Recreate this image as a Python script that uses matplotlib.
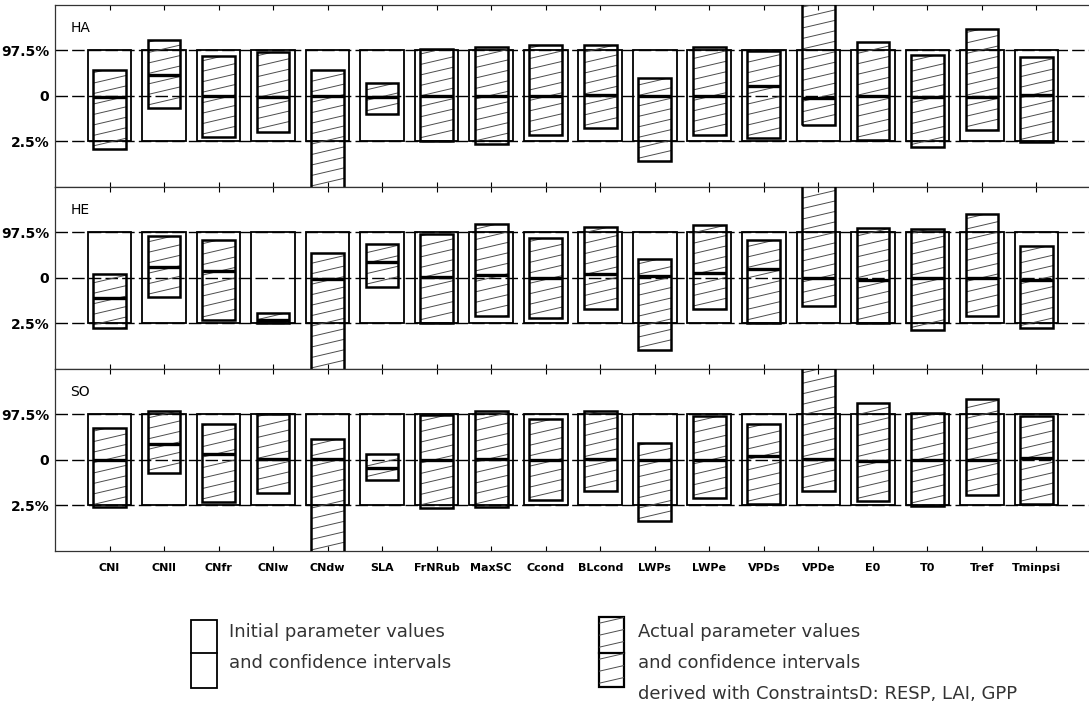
import matplotlib
matplotlib.use("Agg")
import matplotlib.pyplot as plt
import numpy as np
from matplotlib.patches import Rectangle

# %%
# parameter names along the x axis
params = ["CNl", "CNll", "CNfr", "CNlw", "CNdw", "SLA", "FrNRub", "MaxSC", "Ccond",
          "BLcond", "LWPs", "LWPe", "VPDs", "VPDe", "E0", "T0", "Tref", "Tminpsi"]

sites = ["HA", "HE", "SO"]

# actual parameter intervals, scaled so the initial 2.5% / 97.5% bounds are -1 / +1
ha_lo = [-1.16, -0.26, -0.90, -0.79, -2.50, -0.39, -0.98, -1.05, -0.85,
         -0.71, -1.43, -0.85, -0.93, -0.64, -0.97, -1.13, -0.74, -1.02]
ha_hi = [0.56, 1.24, 0.87, 0.97, 0.58, 0.29, 1.04, 1.07, 1.12,
         1.12, 0.40, 1.07, 0.98, 2.50, 1.18, 0.91, 1.47, 0.85]
ha_med = [-0.02, 0.46, 0.01, -0.02, 0.01, -0.02, 0.00, 0.00, 0.01,
          0.03, 0.00, 0.01, 0.21, -0.04, -0.01, -0.02, -0.02, 0.03]

he_lo = [-1.09, -0.42, -0.92, -0.98, -2.50, -0.20, -0.98, -0.83, -0.87,
         -0.68, -1.59, -0.68, -0.98, -0.61, -0.98, -1.15, -0.83, -1.11]
he_hi = [0.08, 0.93, 0.83, -0.76, 0.54, 0.74, 0.96, 1.19, 0.88,
         1.12, 0.41, 1.17, 0.83, 2.50, 1.10, 1.07, 1.41, 0.70]
he_med = [-0.44, 0.25, 0.16, -0.92, -0.02, 0.36, 0.03, 0.07, 0.01,
          0.09, 0.04, 0.12, 0.20, 0.01, -0.05, 0.00, 0.00, -0.05]

so_lo = [-1.04, -0.29, -0.92, -0.72, -2.50, -0.43, -1.05, -1.03, -0.89,
         -0.68, -1.35, -0.84, -0.97, -0.68, -0.91, -1.01, -0.76, -0.97]
so_hi = [0.71, 1.07, 0.78, 1.02, 0.47, 0.12, 0.99, 1.07, 0.91,
         1.07, 0.37, 0.97, 0.78, 2.02, 1.25, 1.04, 1.33, 0.96]
so_med = [-0.01, 0.36, 0.12, 0.02, 0.01, -0.18, 0.00, 0.02, -0.01,
          0.02, -0.01, 0.00, 0.08, 0.02, -0.03, 0.00, 0.00, 0.04]

ytick_vals = [-1, 0, 1]
ytick_labels = ["2.5%", "0", "97.5%"]

# %%
W_INIT = 0.8
W_ACT = 0.6
HATCH_STEP = 0.23
HATCH_SLOPE = 0.28


def hatch_lines(ax, box, x0, y0, w, h, step, slope):
    """Shallow diagonal lines clipped to the outline of box (and the axes)."""
    xs = np.array([x0, x0 + w])
    for yb in np.arange(y0 - abs(slope) * w, y0 + h + step, step):
        ln, = ax.plot(xs, yb + slope * (xs - x0), color="0.3", lw=0.7, zorder=3)
        # path + transform keeps the axes clip box as well
        ln.set_clip_path(box.get_path(), box.get_transform())


def site_panel(ax, lo, hi, med, name, last=False):
    x = np.arange(len(params))
    ax.set_xlim(-1, 18)
    ax.set_ylim(-2, 2)

    for yv in ytick_vals:
        ax.axhline(yv, color="black", lw=1.0, ls=(0, (9, 3)), zorder=1)

    for xi, l, h, m in zip(x, lo, hi, med):
        ax.add_patch(Rectangle((xi - W_INIT / 2, -1), W_INIT, 2, fill=False,
                               edgecolor="black", lw=1.3, zorder=2))
        box = Rectangle((xi - W_ACT / 2, l), W_ACT, h - l, fill=False,
                        edgecolor="black", lw=1.8, zorder=4)
        ax.add_patch(box)
        hatch_lines(ax, box, xi - W_ACT / 2, l, W_ACT, h - l, HATCH_STEP, HATCH_SLOPE)
        ax.plot([xi - W_ACT / 2, xi + W_ACT / 2], [m, m], color="black",
                lw=2.4, solid_capstyle="butt", zorder=5)

    ax.text(-0.72, 1.5, name, fontsize=10, va="center", ha="left")

    ax.set_yticks(ytick_vals)
    ax.set_yticklabels(ytick_labels, fontsize=10, fontweight="bold")
    ax.tick_params(axis="y", length=0, pad=4)
    ax.set_xticks(x)
    ax.tick_params(axis="x", direction="in", length=3.5, top=True, bottom=True,
                   width=0.8)
    if last:
        ax.set_xticklabels(params, fontsize=8, fontweight="bold")
        ax.tick_params(axis="x", pad=9)
    else:
        ax.set_xticklabels([])
    ax.spines["right"].set_visible(False)
    for s in ("left", "top", "bottom"):
        ax.spines[s].set_linewidth(0.9)
        ax.spines[s].set_color("0.2")


# %%
fig = plt.figure(figsize=(10.89, 7.12), dpi=100)

left, width = 0.0505, 0.9513
top, ph = 0.993, 0.2556
data = [(ha_lo, ha_hi, ha_med), (he_lo, he_hi, he_med), (so_lo, so_hi, so_med)]
for i, (name, (lo, hi, med)) in enumerate(zip(sites, data)):
    ax = fig.add_axes([left, top - (i + 1) * ph, width, ph])
    site_panel(ax, lo, hi, med, name, last=(i == 2))

# legend drawn in pixel coordinates of the figure (y grows downwards)
lg = fig.add_axes([0, 0, 1, 1], zorder=-1)
lg.set_xlim(0, 1089)
lg.set_ylim(712, 0)
lg.axis("off")

lg.add_patch(Rectangle((191, 620), 26, 68, fill=False, edgecolor="black", lw=1.3))
lg.plot([191, 217], [653, 653], color="black", lw=1.3)
txt = dict(fontsize=13, va="center", ha="left", color="0.2")
lg.text(229, 632, "Initial parameter values", **txt)
lg.text(229, 663, "and confidence intervals", **txt)

icon = Rectangle((599, 617), 25, 70, fill=False, edgecolor="black", lw=1.6)
lg.add_patch(icon)
hatch_lines(lg, icon, 599, 617, 25, 70, 12, -0.23)
lg.plot([599, 624], [653, 653], color="black", lw=1.6)
lg.text(638, 632, "Actual parameter values", **txt)
lg.text(638, 663, "and confidence intervals", **txt)
lg.text(638, 694, "derived with ConstraintsD: RESP, LAI, GPP", **txt)

fig.savefig("out.png", dpi=100)
